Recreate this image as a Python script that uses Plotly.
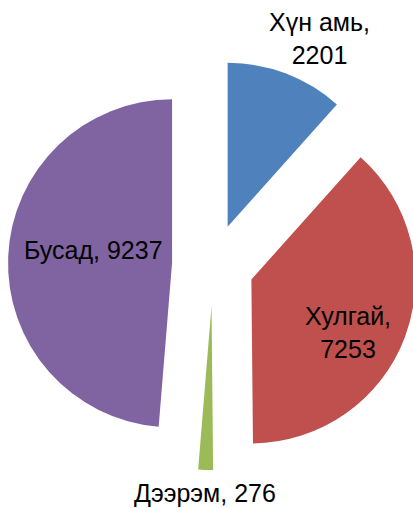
import plotly.graph_objects as go

# Slice data
labels = ["Хүн амь", "Хулгай", "Дээрэм", "Бусад"]
values = [2201, 7253, 276, 9237]
colors = ["#4F81BD", "#C0504D", "#9BBB59", "#8064A2"]

# Label text: two-line for some slices, one-line for others
label_lines = [True, True, False, False]
label_pos = [(319, 39), (348, 332), (205, 493), (93, 250)]

W, H = 426, 508
cx, cy = 213, 265
box = 410

fig = go.Figure(
    go.Pie(
        labels=labels,
        values=values,
        marker=dict(colors=colors, line=dict(width=0)),
        sort=False,
        direction="clockwise",
        rotation=0,
        pull=[0.25] * len(values),
        textinfo="none",
        hoverinfo="label+value",
        domain=dict(
            x=[(cx - box / 2) / W, (cx + box / 2) / W],
            y=[1 - (cy + 230) / H, 1 - (cy - 230) / H],
        ),
        showlegend=False,
    )
)

for lab, val, two, (px, py) in zip(labels, values, label_lines, label_pos):
    txt = f"{lab},<br>{val}" if two else f"{lab}, {val}"
    fig.add_annotation(
        x=px / W, y=1 - py / H, xref="paper", yref="paper",
        text=txt, showarrow=False, xanchor="center", yanchor="middle",
        font=dict(family="Liberation Sans, Arial, sans-serif", size=25, color="#000000"),
    )

fig.update_layout(
    width=W, height=H, autosize=False,
    margin=dict(l=0, r=0, t=0, b=0),
    paper_bgcolor="white", plot_bgcolor="white",
)

fig.write_html("out.html", post_script="document.body.style.overflow='hidden';")
